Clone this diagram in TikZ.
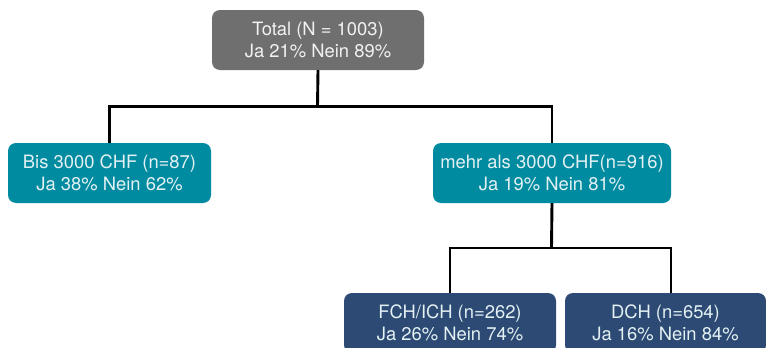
\documentclass[tikz,border=0pt]{standalone}
\usepackage{fontspec}
\setmainfont{TeX Gyre Heros}
\definecolor{boxgray}{HTML}{6F6F6F}
\definecolor{boxteal}{HTML}{008BA1}
\definecolor{boxnavy}{HTML}{2C4A74}
\definecolor{txtlight}{HTML}{E4F1F3}
\begin{document}
\begin{tikzpicture}[x=1pt,y=-1pt,
  treebox/.style={rounded corners=8pt, draw=none, align=center, inner sep=0pt,
    minimum height=60pt, text=txtlight,
    font=\fontsize{18.4}{22.5}\selectfont},
  link/.style={line width=2.9pt, black}]
\useasboundingbox (0,0) rectangle (766,348);
\begin{scope}
\clip (0,0) rectangle (766,348);
\node[treebox, fill=boxgray, text=white!90!gray, minimum width=212pt] (total) at (318,40)
  {Total (N = 1003)\\Ja 21\% Nein 89\%};
\node[treebox, fill=boxteal, minimum width=203pt] (bis) at (109.5,173)
  {Bis 3000 CHF (n=87)\\Ja 38\% Nein 62\%};
\node[treebox, fill=boxteal, minimum width=238pt] (mehr) at (552,173)
  {mehr als 3000 CHF(n=916)\\Ja 19\% Nein 81\%};
\node[treebox, fill=boxnavy, minimum width=212pt] (fch) at (450,323)
  {FCH/ICH (n=262)\\Ja 26\% Nein 74\%};
\node[treebox, fill=boxnavy, minimum width=201pt] (dch) at (665.5,323)
  {DCH (n=654)\\Ja 16\% Nein 84\%};
\end{scope}
% first split
\coordinate (j1) at (317.5,106.5);
\draw[link] (total.south) -- (j1);
\draw[link] (bis.north) |- (j1);
\draw[link] (j1) -| (mehr.north);
% second split
\coordinate (j2) at (551.5,248);
\draw[link] (mehr.south) -- (j2);
\draw[link] (fch.north) |- (j2);
\draw[link] (j2) -| ([xshift=5.5pt]dch.north);
\end{tikzpicture}
\end{document}
